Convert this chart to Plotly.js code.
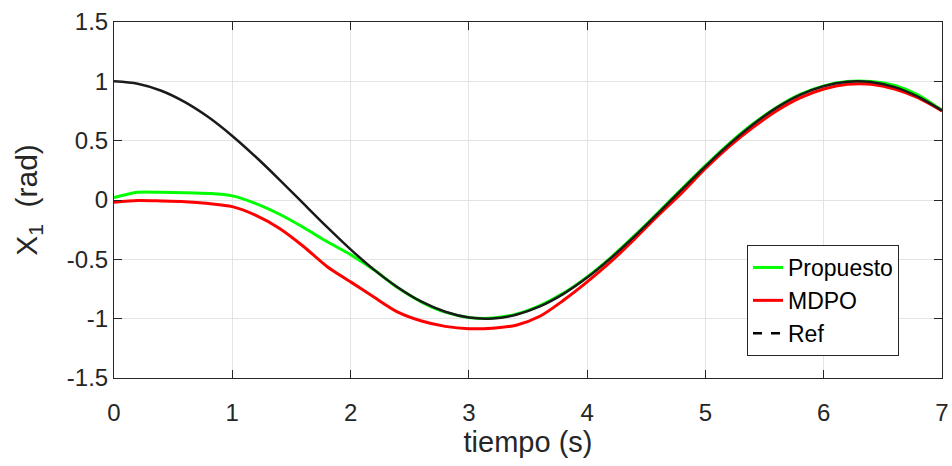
<!DOCTYPE html>
<html>
<head>
<meta charset="utf-8">
<script src="https://cdn.plot.ly/plotly-3.0.1.min.js"></script>
<style>html,body{margin:0;padding:0;background:#fff;}#chart{width:952px;height:466px;}</style>
</head>
<body>
<div id="chart"></div>
<script>
var tiempo = [0,0.2,0.4,0.6,0.8,1.0,1.2,1.4,1.6,1.8,2.0,2.2,2.4,2.6,2.8,3.0,3.2,3.4,3.6,3.8,4.0,4.2,4.4,4.6,4.8,5.0,5.2,5.4,5.6,5.8,6.0,6.2,6.4,6.6,6.8,7.0];

var propuesto = [0.02,0.065,0.065,0.062,0.055,0.035,-0.03,-0.12,-0.23,-0.35,-0.46,-0.59,-0.74,-0.86,-0.945,-0.99,-0.995,-0.962,-0.89,-0.785,-0.648,-0.485,-0.30,-0.105,0.095,0.29,0.475,0.64,0.78,0.89,0.962,0.998,0.998,0.965,0.885,0.755];

var mdpo = [-0.02,-0.005,-0.008,-0.014,-0.03,-0.056,-0.13,-0.24,-0.39,-0.56,-0.69,-0.82,-0.945,-1.02,-1.065,-1.085,-1.08,-1.055,-0.98,-0.845,-0.69,-0.52,-0.33,-0.13,0.06,0.265,0.45,0.61,0.75,0.86,0.935,0.975,0.975,0.935,0.86,0.75];

var ref = [1.0,0.98,0.921,0.825,0.697,0.54,0.362,0.17,-0.029,-0.227,-0.416,-0.589,-0.737,-0.857,-0.942,-0.99,-0.998,-0.967,-0.897,-0.791,-0.654,-0.49,-0.307,-0.112,0.087,0.284,0.469,0.635,0.776,0.886,0.96,0.997,0.994,0.951,0.869,0.754];

var xTicks = [0,1,2,3,4,5,6,7];
var yTicks = [-1.5,-1,-0.5,0,0.5,1,1.5];
var yTickText = ['-1.5','-1','-0.5','0','0.5','1','1.5'];

var FONT = '"Liberation Sans", Arial, Helvetica, sans-serif';
var INK = '#262626';

var traces = [
  {x: tiempo, y: propuesto, name: 'Propuesto', mode: 'lines',
   line: {color: '#00ff00', width: 3, shape: 'spline', smoothing: 0.8}},
  {x: tiempo, y: mdpo, name: 'MDPO', mode: 'lines',
   line: {color: '#ff0000', width: 3, shape: 'spline', smoothing: 0.8}},
  {x: tiempo, y: ref, name: 'Ref', mode: 'lines', showlegend: false,
   line: {color: '#1a1a1a', width: 2.5, shape: 'spline', smoothing: 0.8}},
  {x: [null], y: [null], name: 'Ref', mode: 'lines',
   line: {color: '#000000', width: 2.5, dash: 'dash'}}
];

var axisCommon = {
  showline: true, linecolor: INK, linewidth: 1, mirror: 'ticks',
  ticks: 'inside', ticklen: 8, tickwidth: 1, tickcolor: INK,
  showgrid: true, gridcolor: '#e3e3e3', gridwidth: 1,
  zeroline: false, tickfont: {family: FONT, size: 24, color: INK},
  automargin: false
};

var layout = {
  width: 952, height: 466,
  margin: {l: 114, r: 10, t: 22, b: 88},
  paper_bgcolor: '#ffffff', plot_bgcolor: '#ffffff',
  font: {family: FONT, color: INK},
  showlegend: true,
  xaxis: Object.assign({}, axisCommon, {
    range: [0, 7], tickvals: xTicks, ticktext: xTicks.map(String),
    ticklabelstandoff: 13,
    title: {text: 'tiempo (s)', font: {family: FONT, size: 29, color: INK}, standoff: 3}
  }),
  yaxis: Object.assign({}, axisCommon, {
    range: [-1.5, 1.5], tickvals: yTicks, ticktext: yTickText,
    title: {text: 'X<sub>1</sub>  (rad)', font: {family: FONT, size: 30, color: INK}, standoff: 20}
  }),
  legend: {
    x: 0.7645, y: 0.3736, xanchor: 'left', yanchor: 'top',
    bgcolor: '#ffffff', bordercolor: INK, borderwidth: 1,
    font: {family: FONT, size: 23, color: '#000000'},
    tracegroupgap: 0, itemwidth: 30
  }
};

Plotly.newPlot('chart', traces, layout, {displayModeBar: false, staticPlot: true});
</script>
</body>
</html>
